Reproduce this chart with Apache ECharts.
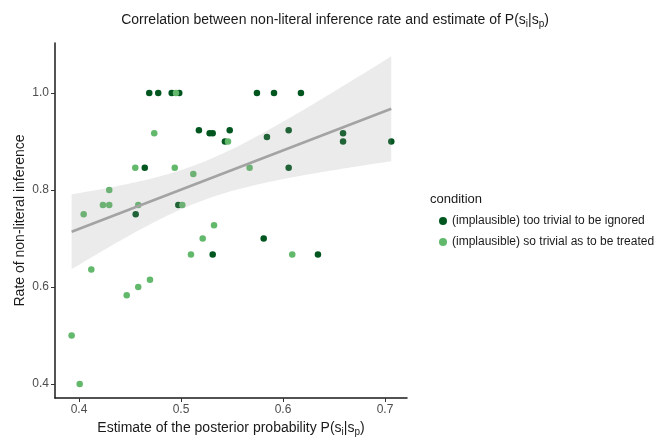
<!DOCTYPE html>
<html>
<head>
<meta charset="utf-8">
<script src="https://cdn.jsdelivr.net/npm/echarts@6/dist/echarts.min.js"></script>
<style>html,body{margin:0;padding:0;background:#fff}#c{width:670px;height:440px}</style>
</head>
<body>
<div id="c"></div>
<script>
// ---- data ----
const conditionNames = ['(implausible) too trivial to be ignored', '(implausible) so trivial as to be treated'];
const ignoredX = [0.4689,0.4777,0.4909,0.4983,0.5745,0.5912,0.6176,0.5176,0.5281,0.5311,0.5478,0.6056,0.6589,0.5431,0.5843,0.6589,0.7062,0.4645,0.6056,0.4974,0.4556,0.5811,0.5311,0.6343];
const ignoredY = [1.0,1.0,1.0,1.0,1.0,1.0,1.0,0.923,0.917,0.917,0.923,0.923,0.917,0.9,0.909,0.9,0.9,0.846,0.846,0.769,0.75,0.7,0.667,0.667];
const treatedX = [0.4951,0.4738,0.5461,0.4552,0.4939,0.5121,0.5673,0.4297,0.4235,0.4297,0.4581,0.5013,0.4046,0.5324,0.5213,0.5098,0.6091,0.4121,0.4696,0.4581,0.4468,0.3928,0.4007];
const treatedY = [1.0,0.917,0.9,0.846,0.846,0.833,0.846,0.8,0.769,0.769,0.769,0.769,0.75,0.727,0.700,0.667,0.667,0.636,0.615,0.6,0.583,0.5,0.4];
const xTicks = [0.4,0.5,0.6,0.7];
const yTicks = [0.4,0.6,0.8,1.0];

// ---- linear fit with 95% confidence band (as geom_smooth(method="lm")) ----
const allX = ignoredX.concat(treatedX), allY = ignoredY.concat(treatedY);
const n = allX.length;
const mx = allX.reduce((a,b)=>a+b,0)/n, my = allY.reduce((a,b)=>a+b,0)/n;
let sxx=0, sxy=0;
for (let i=0;i<n;i++){ sxx += (allX[i]-mx)**2; sxy += (allX[i]-mx)*(allY[i]-my); }
const slope = sxy/sxx, icpt = my - slope*mx;
let sse=0; for (let i=0;i<n;i++){ sse += (allY[i]-(icpt+slope*allX[i]))**2; }
const s = Math.sqrt(sse/(n-2));
const tq = 2.014;
const xmin = Math.min(...allX), xmax = Math.max(...allX);
const band = [];
for (let k=0;k<=80;k++){
  const x = xmin + (xmax-xmin)*k/80;
  const f = icpt + slope*x;
  const h = tq*s*Math.sqrt(1/n + (x-mx)**2/sxx);
  band.push([x, f-h, f+h]);
}
const fitLine = [[xmin, icpt+slope*xmin],[xmax, icpt+slope*xmax]];

const pts = (xs, ys) => xs.map((x,i)=>[x, ys[i]]);
const FONT = 'Liberation Sans, Arial, sans-serif';

const chart = echarts.init(document.getElementById('c'), null, {renderer:'canvas'});
chart.setOption({
  animation:false,
  backgroundColor:'#ffffff',
  textStyle:{fontFamily:FONT},
  title:{
    text:'Correlation between non-literal inference rate and estimate of P(s{sub|i}|s{sub|p})',
    left:'center', top:6,
    textStyle:{fontFamily:FONT, fontSize:14, fontWeight:'normal', color:'#1a1a1a',
      rich:{sub:{fontFamily:FONT, fontSize:10, color:'#1a1a1a', verticalAlign:'bottom', padding:[8,0,0,0]}}}
  },
  graphic:[{type:'text', left:430, top:193, style:{text:'condition', font:'13px ' + FONT, fill:'#1a1a1a'}}],
  legend:{
    data:conditionNames, orient:'vertical', left:434, top:210, itemGap:9,
    icon:'circle', itemWidth:8, itemHeight:8,
    textStyle:{fontFamily:FONT, fontSize:12, color:'#1a1a1a'}
  },
  grid:{left:55, right:263, top:43, bottom:42, containLabel:false, outerBoundsMode:'none'},
  xAxis:{
    type:'value', min:0.3765, max:0.7216,
    name:'Estimate of the posterior probability P(s{sub|i}|s{sub|p})',
    nameLocation:'middle', nameGap:22, nameMoveOverlap:false,
    nameTextStyle:{fontFamily:FONT, fontSize:14, color:'#1a1a1a',
      rich:{sub:{fontFamily:FONT, fontSize:10, color:'#1a1a1a', verticalAlign:'bottom', padding:[7,0,0,0]}}},
    axisLine:{show:true, lineStyle:{color:'#1a1a1a', width:1.5}},
    axisTick:{show:true, length:4, customValues:xTicks, lineStyle:{color:'#333', width:1}},
    axisLabel:{customValues:xTicks, color:'#4d4d4d', fontSize:12, margin:6, formatter:v=>v.toFixed(1)},
    splitLine:{show:false}
  },
  yAxis:{
    type:'value', min:0.371, max:1.103,
    name:'Rate of non-literal inference', nameLocation:'middle', nameGap:28, nameRotate:90, nameMoveOverlap:false,
    nameTextStyle:{fontFamily:FONT, fontSize:14, color:'#1a1a1a'},
    axisLine:{show:true, lineStyle:{color:'#1a1a1a', width:1.5}},
    axisTick:{show:true, length:4, customValues:yTicks, lineStyle:{color:'#333', width:1}},
    axisLabel:{customValues:yTicks, color:'#4d4d4d', fontSize:12, margin:6, formatter:v=>v.toFixed(1)},
    splitLine:{show:false}
  },
  series:[
    {name:conditionNames[0], type:'scatter', data:pts(ignoredX, ignoredY), symbolSize:6.5,
      itemStyle:{color:'#00561f', opacity:1}, z:2},
    {name:conditionNames[1], type:'scatter', data:pts(treatedX, treatedY), symbolSize:6.5,
      itemStyle:{color:'#62b86b', opacity:1}, z:2},
    {type:'custom', data:band, z:3, silent:true,
      renderItem:(params, api)=>{
        if (params.dataIndex !== 0) return null;
        const up = band.map(d=>api.coord([d[0], d[2]]));
        const lo = band.map(d=>api.coord([d[0], d[1]])).reverse();
        return {type:'polygon', shape:{points:up.concat(lo)}, style:{fill:'rgba(153,153,153,0.2)'}};
      }},
    {type:'line', data:fitLine, symbol:'none', z:4, silent:true,
      lineStyle:{color:'#a3a3a3', width:2.5}}
  ]
});
</script>
</body>
</html>
